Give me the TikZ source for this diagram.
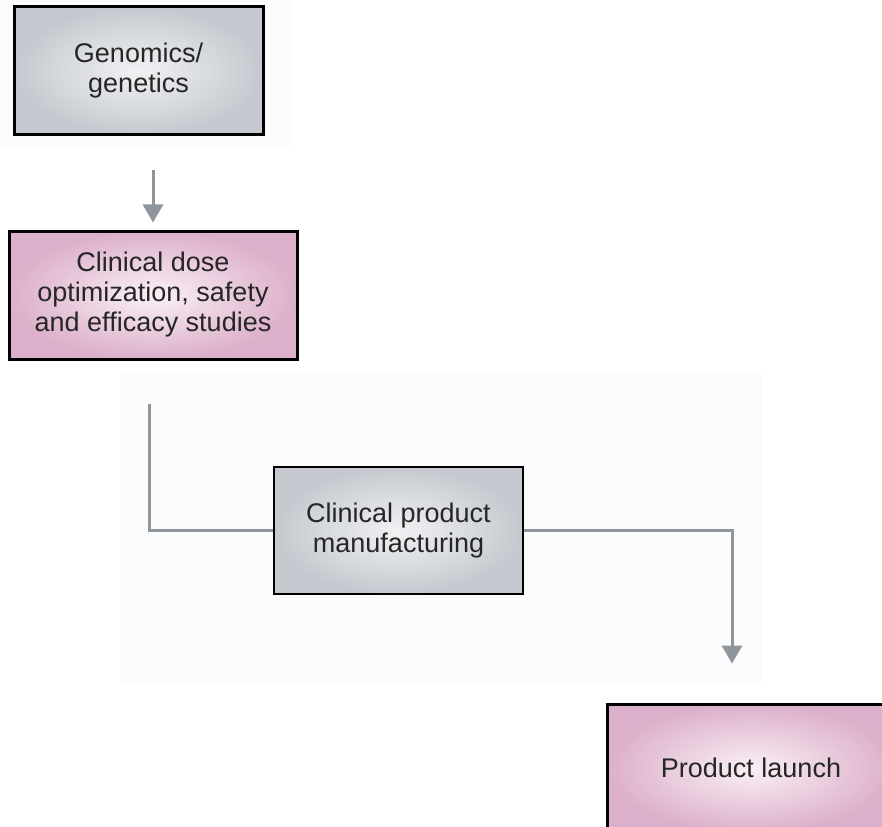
\documentclass[tikz,border=0pt]{standalone}
\usepackage{fontspec}
\setmainfont{Liberation Sans}
\usetikzlibrary{arrows.meta,positioning}

\definecolor{greyedge}{HTML}{C5C9CF}
\definecolor{greymid}{HTML}{F0F1F3}
\definecolor{pinkedge}{HTML}{DCB0CA}
\definecolor{pinkmid}{HTML}{FAF0F6}
\definecolor{linkgrey}{HTML}{8F959D}
\definecolor{paper}{HTML}{FCFCFC}

\tikzset{
  x=1pt, y=-1pt,
  stage/.style={draw=black, line width=3pt, align=center, inner sep=0pt,
    font=\fontsize{27}{30}\selectfont, text=black!85},
  greystage/.style={stage, shading=radial, inner color=greymid, outer color=greyedge},
  pinkstage/.style={stage, shading=radial, inner color=pinkmid, outer color=pinkedge},
  link/.style={draw=linkgrey, line width=3pt},
  arrowlink/.style={link, -{Triangle[width=20pt,length=18pt]}},
}

\begin{document}
\begin{tikzpicture}
  \useasboundingbox (0,0) rectangle (882,826);
  \fill[white] (0,0) rectangle (882,826);

  % faint paper panels behind the flow
  \fill[paper] (0,0) rectangle (292,147);
  \fill[paper] (120,372) rectangle (762,682);

  % stages
  \node[greystage, minimum width=249pt, minimum height=128pt] (gen) at (138.5,71)
    {Genomics/\\genetics};
  \node[pinkstage, minimum width=288pt, minimum height=128pt] (dose) at (153,295)
    {Clinical dose\\optimization, safety\\and efficacy studies};
  \node[greystage, line width=2.5pt, minimum width=249pt, minimum height=127pt] (manu) at (398.5,530.5)
    {Clinical product\\manufacturing};
  \node[pinkstage, minimum width=288pt, minimum height=128pt] (launch) at (751,768)
    {Product launch};

  % connectors
  \draw[arrowlink] ([yshift=-34pt]gen.south -| dose.north)
    -- ([yshift=7pt]dose.north);
  \draw[link] ([xshift=-4pt,yshift=-43pt]dose.south) |- (manu.west);
  \coordinate (drop) at ([xshift=-19pt,yshift=39pt]launch.north);
  \draw[arrowlink] (manu.east) -| (drop);
\end{tikzpicture}
\end{document}
